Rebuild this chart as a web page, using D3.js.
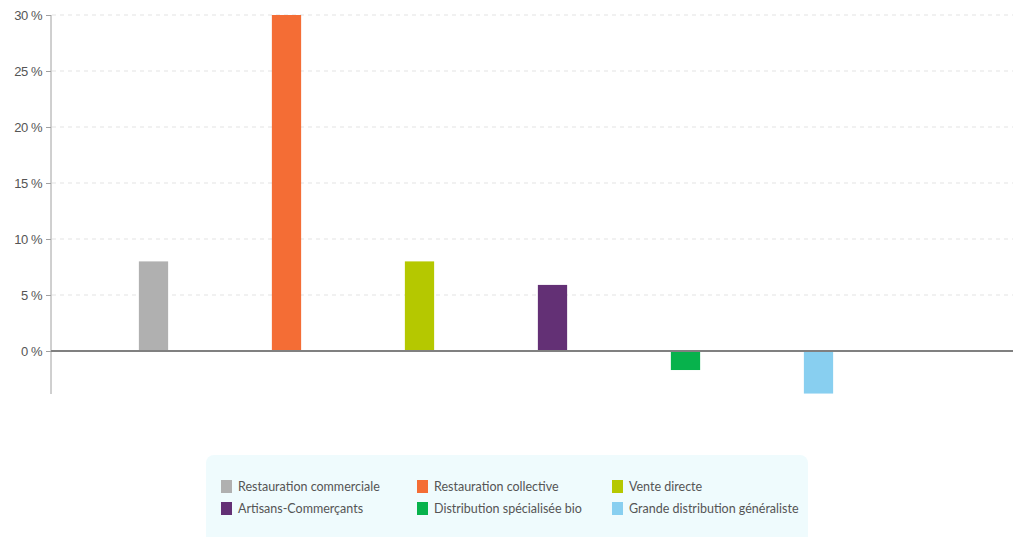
<!DOCTYPE html>
<html>
<head>
<meta charset="utf-8">
<script src="https://cdn.jsdelivr.net/npm/d3@7"></script>
<style>
  body { margin: 0; background: #fff; }
  svg { display: block; font-family: Lato, "Open Sans", sans-serif; }
</style>
</head>
<body>
<svg width="1013" height="537"></svg>
<script>
const categories = ['Restauration commerciale', 'Restauration collective', 'Vente directe',
                    'Artisans-Commerçants', 'Distribution spécialisée bio', 'Grande distribution généraliste'];
const values = [8, 30, 8, 5.9, -1.7, -3.8];
const colors = ['#b0b0b0', '#f46d35', '#b5c800', '#633075', '#07b24c', '#88cff0'];
const yTicks = [0, 5, 10, 15, 20, 25, 30];

const svg = d3.select('svg');
const width = +svg.attr('width');

const y = d3.scaleLinear().domain([-3.84, 30]).range([394, 15]);
const x = d3.scaleBand().domain(categories).range([87, 885]).paddingInner(0.78).paddingOuter(0.39);

// grid
svg.append('g')
   .selectAll('line')
   .data(yTicks.filter(d => d !== 0))
   .enter().append('line')
   .attr('x1', 52).attr('x2', width)
   .attr('y1', d => y(d)).attr('y2', d => y(d))
   .attr('stroke', '#e3e3e3')
   .attr('stroke-dasharray', '4,4');

// y axis
const yAxis = svg.append('g')
   .attr('transform', 'translate(51,0)')
   .call(d3.axisLeft(y).tickValues(yTicks).tickSize(5).tickPadding(4).tickFormat(d => d + ' %'));
yAxis.select('.domain').attr('stroke', '#a0a0a0').attr('d', `M0,${y(30)}V${y.range()[0]}`);
yAxis.selectAll('.tick line').attr('stroke', '#a0a0a0');
yAxis.selectAll('.tick text')
     .attr('fill', '#555')
     .attr('font-size', 13)
     .attr('letter-spacing', '-0.5px');

// bars
svg.append('g')
   .selectAll('rect')
   .data(values)
   .enter().append('rect')
   .attr('x', (d, i) => x(categories[i]))
   .attr('width', x.bandwidth())
   .attr('y', d => y(Math.max(0, d)))
   .attr('height', d => Math.abs(y(d) - y(0)))
   .attr('fill', (d, i) => colors[i]);

// zero line
svg.append('line')
   .attr('x1', 51).attr('x2', width)
   .attr('y1', y(0)).attr('y2', y(0))
   .attr('stroke', '#808080')
   .attr('stroke-width', 2);

// legend
const legend = svg.append('g');
legend.append('rect')
      .attr('x', 206).attr('y', 455)
      .attr('width', 602).attr('height', 100)
      .attr('rx', 8)
      .attr('fill', '#effbfd');

const colX = [221, 417, 612];
const rowY = [487, 509];
const item = legend.selectAll('g.item')
      .data(categories)
      .enter().append('g')
      .attr('class', 'item')
      .attr('transform', (d, i) => `translate(${colX[i % 3]},${rowY[Math.floor(i / 3)]})`);
item.append('rect')
    .attr('x', 0).attr('y', -7)
    .attr('width', 11).attr('height', 13)
    .attr('fill', (d, i) => colors[i]);
item.append('text')
    .attr('x', 17).attr('y', 0)
    .attr('dy', '0.35em')
    .attr('font-size', 12.5)
    .attr('fill', '#555')
    .text(d => d);
</script>
</body>
</html>
